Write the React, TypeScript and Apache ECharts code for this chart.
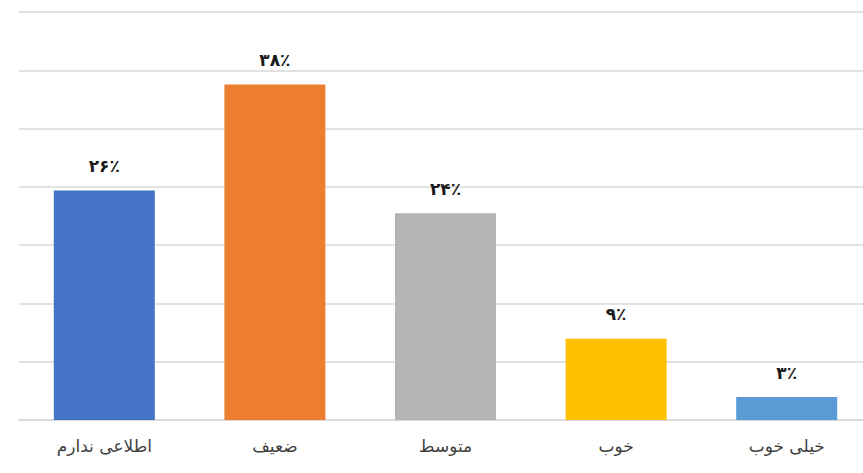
import React, { useEffect, useRef } from "react";
import * as echarts from "echarts";

const categories = ["اطلاعی ندارم", "ضعیف", "متوسط", "خوب", "خیلی خوب"];
const values = [26.0, 38.0, 23.4, 9.2, 2.6];
const valueLabels = ["۲۶٪", "۳۸٪", "۲۴٪", "۹٪", "۳٪"];
const barColors = ["#4472C4", "#ED7D31", "#B4B4B4", "#FFC000", "#5B9BD5"];

export default function App() {
  const ref = useRef<HTMLDivElement>(null);
  useEffect(() => {
    if (!ref.current) return;
    const chart = echarts.init(ref.current, undefined, { renderer: "svg" });
    chart.setOption({
      animation: false,
      backgroundColor: "#ffffff",
      grid: { left: 19, right: 0, top: 12, bottom: 53, containLabel: false },
      xAxis: {
        type: "category",
        data: categories,
        axisLine: { show: true, lineStyle: { color: "#d9d9d9", width: 1.5 } },
        axisTick: { show: false },
        axisLabel: {
          margin: 17,
          fontSize: 17,
          color: "#404040",
          fontFamily: "DejaVu Sans, sans-serif",
        },
      },
      yAxis: {
        type: "value",
        min: 0,
        max: 46.2,
        interval: 6.6,
        axisLabel: { show: false },
        axisLine: { show: false },
        axisTick: { show: false },
        splitLine: { show: true, lineStyle: { color: "#d9d9d9", width: 1.5 } },
      },
      series: [
        {
          type: "bar",
          barWidth: 101,
          data: values.map((v, i) => ({
            value: v,
            itemStyle: { color: barColors[i] },
            label: { formatter: valueLabels[i] },
          })),
          label: {
            show: true,
            position: "top",
            distance: 16,
            fontSize: 17,
            fontWeight: "bold",
            color: "#1a1a1a",
            fontFamily: "DejaVu Sans, sans-serif",
          },
        },
      ],
    });
    return () => chart.dispose();
  }, []);
  return (
    <div
      style={{
        position: "absolute",
        left: 0,
        top: 0,
        width: 863,
        height: 473,
        overflow: "hidden",
        background: "#fff",
      }}
    >
      <div ref={ref} style={{ width: 872, height: 473 }} />
    </div>
  );
}
